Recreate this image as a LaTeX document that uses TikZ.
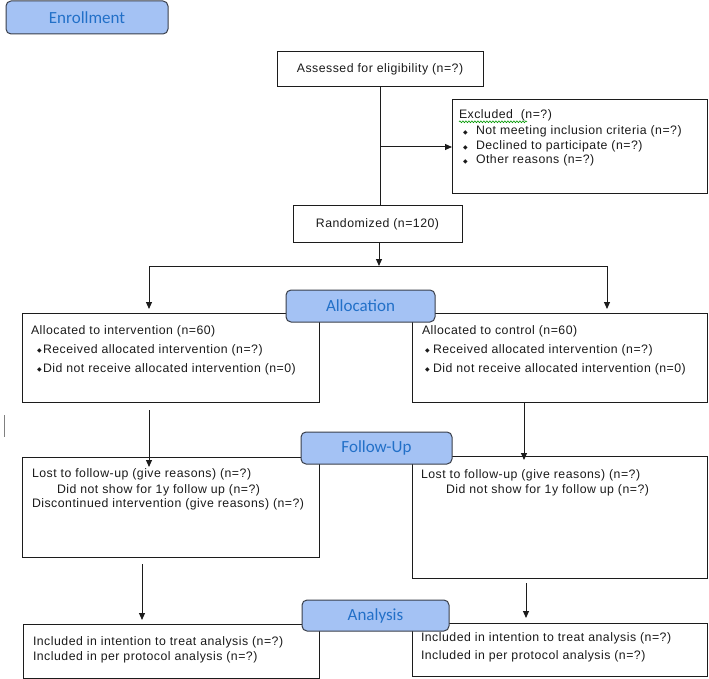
\documentclass[tikz,border=0pt]{standalone}
\usepackage{fontspec}
\setmainfont{Liberation Sans}[LetterSpace=4]
\newfontfamily\labfont{Carlito}
\newfontfamily\dvfont{DejaVu Sans}
\usetikzlibrary{arrows.meta,decorations.pathmorphing}
\definecolor{labfill}{HTML}{A4C2F4}
\definecolor{labtext}{HTML}{2270C8}
\definecolor{labdraw}{HTML}{3A3F4A}
\definecolor{lncol}{HTML}{1C1C1C}
\definecolor{txt}{HTML}{1A1A1A}
\newcommand{\bul}[1]{\makebox[#1][l]{\dvfont\fontsize{6}{7}\selectfont\raisebox{0.4pt}{◆}}}
\tikzset{
  box/.style={draw=lncol, line width=1pt, inner sep=0pt, outer sep=0pt, anchor=north west,
    font=\fontsize{12.3}{14}\selectfont, text=txt},
  lab/.style={draw=labdraw, fill=labfill, rounded corners=5pt, line width=1pt, inner sep=0pt,
    outer sep=0pt, anchor=north west, font=\labfont\fontsize{17}{20}\selectfont, text=labtext},
  tx/.style={anchor=base west, inner sep=0pt, outer sep=0pt, font=\fontsize{12.3}{14}\selectfont, text=txt},
  arr/.style={draw=lncol, line width=1pt, -{Triangle[width=6pt,length=7pt]}},
  plain/.style={draw=lncol, line width=1pt},
}
\begin{document}
\begin{tikzpicture}[x=1pt,y=-1pt]
\useasboundingbox (0,0) rectangle (709,679);
% boxes
\node[box, minimum width=206, minimum height=35] (assess) at (277,52) {Assessed for eligibility (n=?)};
\node[box, minimum width=255, minimum height=94] (excl) at (452,100) {};
\node[box, minimum width=169, minimum height=36] (rand) at (293,206) {Randomized (n=120)};
\node[box, minimum width=297, minimum height=89] (lalloc) at (22,313) {};
\node[box, minimum width=295, minimum height=89] (ralloc) at (412,313) {};
\node[box, minimum width=297, minimum height=100] (lfu) at (22,457) {};
\node[box, minimum width=295, minimum height=122] (rfu) at (412,456) {};
\node[box, minimum width=296, minimum height=54] (lan) at (23,624) {};
\node[box, minimum width=295, minimum height=53] (ran) at (412,623) {};
% texts
\node[tx] (ex1) at (459,119) {Excluded\ \ (n=?)};
\node[tx] (ex2) at (463,134.7) {\bul{13pt}Not meeting inclusion criteria (n=?)};
\node[tx] (ex3) at (463,150) {\bul{13pt}Declined to participate (n=?)};
\node[tx] (ex4) at (463,164) {\bul{13pt}Other reasons (n=?)};
\draw[green!60!black, line width=0.6pt, decorate, decoration={snake, amplitude=0.9pt, segment length=3pt}]
  ([yshift=-2.8pt]ex1.base west) -- ++(68,0);
\node[tx] (la1) at (31,334) {Allocated to intervention (n=60)};
\node[tx] (la2) at (37,353) {\bul{6pt}Received allocated intervention (n=?)};
\node[tx] (la3) at (37,372) {\bul{6pt}Did not receive allocated intervention (n=0)};
\node[tx] (ra1) at (422,334) {Allocated to control (n=60)};
\node[tx] (ra2) at (425,353) {\bul{8pt}Received allocated intervention (n=?)};
\node[tx] (ra3) at (425,372) {\bul{8pt}Did not receive allocated intervention (n=0)};
\node[tx] (lf1) at (32,477) {Lost to follow-up (give reasons) (n=?)};
\node[tx] (lf2) at (57,493) {Did not show for 1y follow up (n=?)};
\node[tx] (lf3) at (32,507) {Discontinued intervention (give reasons) (n=?)};
\node[tx] (rf1) at (421,478) {Lost to follow-up (give reasons) (n=?)};
\node[tx] (rf2) at (446,493) {Did not show for 1y follow up (n=?)};
\node[tx] (ln1) at (33,645) {Included in intention to treat analysis (n=?)};
\node[tx] (ln2) at (33,660) {Included in per protocol analysis (n=?)};
\node[tx] (rn1) at (421,641) {Included in intention to treat analysis (n=?)};
\node[tx] (rn2) at (421,659) {Included in per protocol analysis (n=?)};
% connectors
\coordinate (exj) at (380,147);
\draw[plain] (assess.south) -- (assess.south |- rand.north);
\draw[arr] (exj) -- (exj -| excl.west);
\coordinate (j) at (379,266);
\coordinate (jl) at (149,266);
\coordinate (jr) at (607,266);
\draw[arr] (rand.south -| j) -- (j);
\draw[plain] (jl) -- (jr);
\draw[arr, shorten >=4pt] (jl) -- (jl |- lalloc.north);
\draw[arr, shorten >=4pt] (jr) -- (jr |- ralloc.north);
\coordinate (rx) at (524,0);
\coordinate (lx2) at (142,0);
\coordinate (rx2) at (526,0);
\draw[arr, shorten <=8pt, shorten >=-10pt] (lalloc.south -| jl) -- (lfu.north -| jl);
\draw[arr, shorten >=-4pt] (ralloc.south -| rx) -- (rfu.north -| rx);
\draw[arr, shorten <=7pt, shorten >=4pt] (lfu.south -| lx2) -- (lan.north -| lx2);
\draw[arr, shorten <=5pt, shorten >=5pt] (rfu.south -| rx2) -- (ran.north -| rx2);
% stray mark
\draw[gray, line width=0.8pt] (4,415) -- (4,437);
% labels
\node[lab, minimum width=162, minimum height=33] (enr) at (6,1) {Enrollment};
\node[lab, minimum width=149, minimum height=32] (alloc) at (286,290) {Allocation};
\node[lab, minimum width=151, minimum height=32] (fu) at (301,432) {Follow-Up};
\node[lab, minimum width=147, minimum height=31] (an) at (302,600) {Analysis};
\end{tikzpicture}
\end{document}
